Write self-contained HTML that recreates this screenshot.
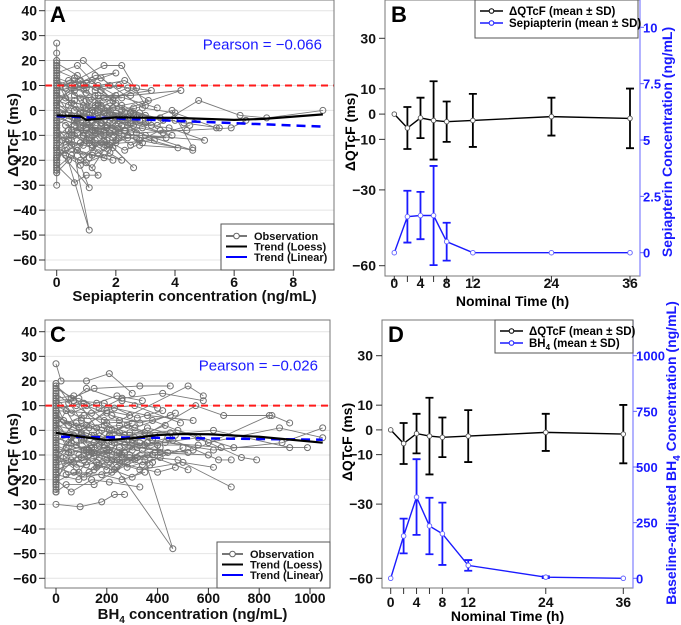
<!DOCTYPE html>
<html><head><meta charset="utf-8"><style>
html,body{margin:0;padding:0;background:#fff;}
svg{display:block;font-family:"Liberation Sans",Arial,sans-serif;}
.tk{font-size:14px;font-weight:bold;fill:#111;}
.tt{font-size:15px;font-weight:bold;fill:#111;}
</style></head><body>
<svg id="fig" width="681" height="625" viewBox="0 0 681 625" xmlns="http://www.w3.org/2000/svg"></svg>
<script>
// ===== DATA =====
const obsA = [
[0,5,1.2,12,2.0,3,0.9,-6,0.2,-2],[0,-10,0.9,-18,1.6,-12,0.8,-20,0,-15],[0,15,0.7,18,1.5,8,2.6,-2,0.4,2],
[0,-5,1.1,-48,0.5,-12,0,-20],[0,20,0.9,20,1.8,10,3.2,8,1.0,4],[0,-3,1.4,-8,2.8,-12,4.6,-16,2.0,-6],
[0,8,1.6,18,2.2,18,3.0,2,1.2,-4],[0,-22,0.6,-29,1.0,-26,1.4,-26,0.5,-14],[0,2,2.1,-3,3.4,-6,4.8,4,6.2,-2,7.1,-3,9.0,0],
[0,-8,1.9,-15,2.6,-23,1.5,-10,0.3,-6],[0,12,1.3,6,2.5,6,4.2,8,2.2,0],[0,-15,1.1,-31,0.8,-22,0.3,-18],
[0,0,1.8,-4,3.8,-7,5.0,-12,3.0,-10],[0,-18,1.0,-12,2.2,-20,1.4,-17,0.6,-10],[0,6,0.9,2,2.4,-6,3.6,-9,4.5,-6],
[0,10,1.5,13,2.9,1,4.0,-1,5.4,-7],[0,-12,0.7,-9,1.7,-2,3.3,-12,1.2,-14],[0,4,1.2,-1,2.0,-8,4.1,-15,2.8,-14],
[0,-6,0.5,-2,1.3,-6,2.7,-9,5.9,-7,6.4,-4],[0,16,0.8,12,1.9,4,0.6,6],[0,-25,0.4,-20,0.9,-14,0.2,-12],
[0,-1,1.6,-10,3.1,-4,3.9,0,4.6,-15],[0,13,1.0,9,2.3,12,2.7,9,1.4,2],[0,-9,1.7,-7,2.5,-14,3.5,-8,4.4,-8],
[0,1,0.8,-3,1.4,-1,2.2,2,3.0,-2],[0,-20,0.3,-16,1.2,-18,1.9,-20,0.7,-16],[0,9,1.1,4,1.8,-2,2.4,-4,3.2,-6],
[0,-14,1.5,-13,2.1,-11,3.7,-11,1.0,-8],[0,3,0.6,8,1.4,10,2.0,6,3.4,1],[0,-4,1.2,-10,2.6,-1,4.3,-5,5.5,-7],
[0,27,0,23,0,-30,0,18,0,-24],[0,17,0,-19,0,-11,0,7,0,-7],[0.9,-1,1.6,5,2.4,9,3.1,4,1.3,0],
[0.5,-8,1.0,-5,1.7,-12,2.3,-16,2.9,-13],[0.6,10,1.3,14,2.0,15,1.0,11,0.4,12],
[0,-2,0.8,-7,1.5,-4,2.1,-9,1.1,-11],[0,7,0.5,3,1.3,2,1.9,-5,2.6,-6],[0,-16,0.9,-9,1.6,-15,2.4,-11,0.6,-4],
[0,11,1.0,7,1.7,1,2.3,-1,3.5,-3],[0,-7,0.4,-12,1.2,-15,1.8,-9,2.9,-7],[0,14,0.6,0,1.4,-3,2.0,-13,1.1,-19],
[0,-11,0.7,-3,1.5,2,2.5,-5,3.9,-10],[0,-17,1.0,-21,1.8,-17,2.2,-6,1.3,-8],[0,5,0.8,5,1.6,-8,2.7,-3,4.0,-4],
[0,-23,0.5,-18,1.2,-23,1.7,-14,0.9,-10],[0,0,1.1,-2,1.9,1,2.8,-1,3.6,-4],[0,19,0.7,14,1.3,8,2.1,10,0.3,9],
[0,-13,0.6,-6,1.0,1,1.4,6,2.2,5],[0,6,0.4,-1,0.9,-10,1.6,-19,2.0,-12],[0,-19,0.8,-13,1.3,-9,1.9,-2,2.6,1],
[0,2,0.5,9,1.1,-3,1.7,-6,2.3,-8],[0,-9,0.7,-16,1.2,-5,2.0,-1,2.8,-4],[0,12,0.3,5,0.8,-1,1.5,-5,2.4,-10],
[0,-4,0.6,4,1.3,-12,1.8,-14,2.5,-9],[0,8,0.9,10,1.4,3,2.1,-3,3.0,-5],[0,-21,0.4,-8,1.0,-7,1.6,-1,2.2,-3],
[0,3,0.7,-4,1.2,-8,1.9,-11,2.7,-11],[0,-15,0.5,-10,1.1,-13,1.7,-7,2.3,-3],[0,10,0.6,13,1.2,0,1.8,3,2.5,-1]
];
const baseA = [-25,-23,-21,-19,-17,-15,-13,-11,-9,-7,-5,-3,-1,1,3,5,7,9,11,13,15,17,19,-24,-22,-20,-18,-16,-14,-12,-10,-8,-6,-4,-2,0,2,4,6,8,10,12,14,16,18,20];
const loessAx = [0,0.8,1.0,1.3,2,4,6,7,9];
const loessAy = [-2,-2.4,-3.8,-3.5,-2.8,-3,-3.8,-3.4,-1.6];
const linAx = [0,9];
const linAy = [-2.3,-6.5];
const pearsonA = "Pearson = \u22120.066";

const obsC = [
[0,27,20,20,120,20,210,23,300,15],[0,18,60,13,150,17,330,18,450,18],[0,-30,95,-31,180,-29,230,-26,270,-26],
[0,-5,200,-10,460,-48,350,-12,120,-8],[0,10,100,5,250,4,520,18,580,14],[0,-20,60,-25,140,-20,210,-21,330,-23],
[0,2,150,-2,300,-5,550,10,660,6,850,6,920,3],[0,-10,80,-15,200,-12,400,-17,470,-15],[0,5,180,0,380,-4,620,-8,890,-5,1050,1],
[0,-3,130,-8,290,-10,480,-12,690,-23],[0,12,90,13,170,9,310,10,490,3],[0,-15,110,-19,220,-17,360,-10,520,-16],
[0,0,160,-3,350,-6,560,-3,730,-11,790,-12],[0,-8,70,-13,190,-7,280,-15,410,-11],[0,8,140,7,260,13,420,15,580,12],
[0,-12,100,-4,240,-9,440,-3,640,-12,690,-12],[0,-2,200,3,380,4,600,-5,880,1,1050,-3],[0,15,50,11,120,17,260,12,400,9],
[0,-18,90,-20,170,-14,300,-19,370,-14],[0,4,130,1,270,-2,480,0,700,-7,990,-7],[0,-6,60,-9,200,-4,320,-7,520,-9],
[0,-25,40,-22,150,-22,280,-13,410,-7],[0,1,110,6,230,9,360,6,540,4],[0,-14,170,-11,330,-16,500,-13,620,-15],
[0,9,80,10,190,2,290,-1,450,-1],[0,-9,140,-6,250,-13,390,-9,600,-10],[0,13,60,7,160,11,240,14,340,12],
[0,-4,120,-1,220,-6,430,-5,650,-7],[0,6,90,1,200,7,310,1,470,7],[0,-21,70,-17,180,-18,260,-20,350,-17],
[0,-1,150,-5,280,2,390,-2,620,0,920,-7],[0,-16,110,-12,210,-8,340,-14,500,-7],[0,3,40,-7,130,-10,250,-7,380,-13],
[0,-7,100,-11,230,-5,360,1,470,-2],[0,11,70,12,190,11,320,5,420,8],[0,-12,150,-16,290,-11,400,-6,560,-6],
[0,-25,0,-21,0,14,0,-16,0,12],[0,7,50,2,140,-2,270,-6,440,-9],[0,-3,80,-6,170,-1,300,-8,460,-4],
[0,17,120,10,220,6,330,3,450,6],[0,-11,60,-3,160,-15,260,-10,370,-3],[0,-19,90,-10,200,-16,300,-4,410,-9],
[0,2,110,-8,240,-12,380,-10,540,-8,840,6],[0,-7,40,-18,130,-17,250,-9,330,-5],[0,19,100,4,210,0,310,-3,430,2],
[0,-13,50,-5,120,2,200,8,290,6],[0,6,70,-2,150,-9,230,-16,320,-11],[0,-17,60,-12,140,-7,220,0,300,3],
[0,1,40,8,110,-4,190,-6,270,-9],[0,-10,90,-17,170,-6,250,-1,360,-5],[0,11,30,4,100,-1,180,-5,260,-11],
[0,-5,80,3,160,-13,240,-15,340,-8],[0,9,110,11,190,4,270,-2,380,-4],[0,-22,50,-9,130,-8,210,-2,290,-2],
[0,4,60,-5,140,-9,220,-12,310,-12],[0,-14,40,-11,120,-14,200,-8,280,-4],[0,13,70,14,160,1,250,2,350,-1]
];
const baseC = [-25,-23,-21,-19,-17,-15,-13,-11,-9,-7,-5,-3,-1,1,3,5,7,9,11,13,15,17,19,-24,-22,-20,-18,-16,-14,-12,-10,-8,-6,-4,-2,0,2,4,6,8,10,12,14,16,18];
const loessCx = [0,100,200,300,400,500,600,800,1050];
const loessCy = [-1,-2.6,-4,-3.2,-1.9,-1.5,-1.6,-2.6,-5];
const linCx = [20,1050];
const linCy = [-2.6,-3.8];
const pearsonC = "Pearson = \u22120.026";

const times = [0,2,4,6,8,12,24,36];
const qtcMean = [0,-5.5,-1.5,-2.5,-3,-2.5,-1,-1.7];
const qtcSD = [0,8.3,8,15.5,8,10.5,7.5,11.8];
const sepMean = [0,1.6,1.65,1.65,0.49,0,0,0];
const sepSD = [0,1.15,1.05,2.2,0.84,0,0,0];
const bh4Mean = [0,190,365,235,200,58,5,0];
const bh4SD = [0,78,170,127,140,24,4,0];
const leftTicks = [30,10,0,-10,-30,-60];
const sepTicks = [0,2.5,5,7.5,10];
const bh4Ticks = [0,250,500,750,1000];
const timeTicks = [0,4,8,12,24,36];
const timeMinor = [2,6];
const yTicksScatter = [40,30,20,10,0,-10,-20,-30,-40,-50,-60];
const xTicksA = [0,2,4,6,8];
const xTicksC = [0,200,400,600,800,1000];

// ===== DRAW =====
const NS="http://www.w3.org/2000/svg";
const svg=document.getElementById('fig');
function mk(tag,parent,attrs){const e=document.createElementNS(NS,tag);for(const k in attrs)e.setAttribute(k,attrs[k]);parent.appendChild(e);return e;}
function lin(d0,d1,r0,r1){return v=>r0+(v-d0)*(r1-r0)/(d1-d0);}

function scatterPanel(o){
  const g=mk('g',svg,{});
  
  
  const X=lin(o.xd[0],o.xd[1],o.xr[0],o.xr[1]), Y=lin(40,-60,o.y40,o.ym60);
  yTicksScatter.forEach(v=>{const l=mk('line',g,{x1:o.box[0],x2:o.box[2],y1:Y(v),y2:Y(v),stroke:'#e4e4e4','stroke-width':1});
    });
  const og=mk('g',g,{});
  
  o.obs.forEach(s=>{
    let pts=[];for(let i=0;i<s.length;i+=2)pts.push(X(s[i]).toFixed(1)+','+Y(s[i+1]).toFixed(1));
    const pl=mk('polyline',og,{points:pts.join(' '),fill:'none',stroke:'#7a7a7a','stroke-width':0.9});
    
    for(let i=0;i<s.length;i+=2){const c=mk('circle',og,{cx:X(s[i]),cy:Y(s[i+1]),r:3,fill:'none',stroke:'#707070','stroke-width':1});
      }
  });
  o.base.forEach(v=>{const c=mk('circle',og,{cx:X(0),cy:Y(v),r:3,fill:'none',stroke:'#707070','stroke-width':1});
    });
  const rl=mk('line',g,{x1:o.box[0],x2:o.box[2],y1:Y(10),y2:Y(10),stroke:'#ff1a1a','stroke-width':2,'stroke-dasharray':'7,5'});
  
  const lp=mk('polyline',g,{points:o.lx.map((v,i)=>X(v)+','+Y(o.ly[i])).join(' '),fill:'none',stroke:'#0000ff','stroke-width':2.5,'stroke-dasharray':'9,6'});
  
  const lo=mk('polyline',g,{points:o.sx.map((v,i)=>X(v)+','+Y(o.sy[i])).join(' '),fill:'none',stroke:'#000','stroke-width':2.2,'stroke-linejoin':'round'});
  
  const bx=mk('rect',g,{x:o.box[0],y:o.box[1],width:o.box[2]-o.box[0],height:o.box[3]-o.box[1],fill:'none',stroke:'#777','stroke-width':1});
  
  yTicksScatter.forEach(v=>{mk('line',g,{x1:o.box[0]-6,x2:o.box[0],y1:Y(v),y2:Y(v),stroke:'#333'});
    const t=mk('text',g,{x:o.box[0]-8,y:Y(v)+5,'text-anchor':'end',class:'tk'});t.textContent=v<0?'\u2212'+(-v):v;
    });
  o.xt.forEach(v=>{mk('line',g,{x1:X(v),x2:X(v),y1:o.box[3],y2:o.box[3]+6,stroke:'#333'});
    const t=mk('text',g,{x:X(v),y:o.xtY,'text-anchor':'middle',class:'tk'});t.textContent=v;
    });
  const yt=mk('text',g,{x:0,y:0,transform:`translate(18,${o.ytc}) rotate(-90)`,'text-anchor':'middle',class:'tt'});yt.innerHTML='\u0394QTcF (ms)';
  
  const xt=mk('text',g,{x:(o.box[0]+o.box[2])/2+5,y:o.xtitleY,'text-anchor':'middle',class:'tt'});xt.innerHTML=o.xtitle;
  
  const pl=mk('text',g,{x:o.box[0]+5,y:o.box[1]+22,'font-size':22,'font-weight':'bold'});pl.textContent=o.letter;
  
  const pr=mk('text',g,{x:o.box[2]-12,y:Y(30)+14,'text-anchor':'end','font-size':15,fill:'#1a1aff'});pr.textContent=o.pearson;
  
  const L=mk('g',g,{});
  const lx=o.box[2]-113, ly=o.box[3]-46;
  mk('rect',L,{x:lx,y:ly,width:113,height:46,fill:'#fff',stroke:'#555'});
  const items=[['Observation','#777'],['Trend (Loess)','#000'],['Trend (Linear)','#0000ff']];
  items.forEach((it,i)=>{const yy=ly+12+i*10.5;
    mk('line',L,{x1:lx+5,x2:lx+26,y1:yy,y2:yy,stroke:it[1],'stroke-width':2});
    if(i==0)mk('circle',L,{cx:lx+15.5,cy:yy,r:2.8,fill:'#fff',stroke:'#666'});
    const t=mk('text',L,{x:lx+33,y:yy+4,'font-size':11,'font-weight':'bold',fill:'#111'});t.textContent=it[0];
    });
}

scatterPanel({name:'panel-a',letter:'A',obs:obsA,base:baseA,xd:[0,8],xr:[56.7,293.3],y40:10.7,ym60:260,box:[45,0,334,270],
 sx:loessAx,sy:loessAy,lx:linAx,ly:linAy,xt:xTicksA,xtY:287,xtitleY:301,xtitle:'Sepiapterin concentration (ng/mL)',ytc:135,pearson:pearsonA});
scatterPanel({name:'panel-c',letter:'C',obs:obsC,base:baseC,xd:[0,1000],xr:[56,310],y40:331.7,ym60:578.3,box:[45,320,330,588],
 sx:loessCx,sy:loessCy,lx:linCx,ly:linCy,xt:xTicksC,xtY:603,xtitleY:619,xtitle:'BH<tspan font-size="10" dy="4">4</tspan><tspan dy="-4"> concentration (ng/mL)</tspan>',ytc:455,pearson:pearsonC});

function timePanel(o){
  const g=mk('g',svg,{});
  
  const X=lin(0,36,o.x0,o.x36), Y=lin(30,-60,o.y30,o.ym60), R=lin(0,o.rmax,o.r0,o.rtop);
  mk('rect',g,{x:o.box[0],y:o.box[1],width:o.box[2]-o.box[0],height:o.box[3]-o.box[1],fill:'none',stroke:'#777'});
  mk('line',g,{x1:o.box[2],x2:o.box[2],y1:o.box[1],y2:o.box[3],stroke:'#8080ff','stroke-width':1.2});
  leftTicks.forEach(v=>{mk('line',g,{x1:o.box[0]-6,x2:o.box[0],y1:Y(v),y2:Y(v),stroke:'#333'});
    const t=mk('text',g,{x:o.box[0]-9,y:Y(v)+5,'text-anchor':'end',class:'tk'});t.textContent=v<0?'\u2212'+(-v):v;
    });
  o.rt.forEach(v=>{mk('line',g,{x1:o.box[2],x2:o.box[2]+4,y1:R(v),y2:R(v),stroke:'#6060ff'});
    const t=mk('text',g,{x:o.box[2]+3,y:R(v)+5,'font-size':13,'font-weight':'bold',fill:'#1a1aff'});t.textContent=v;
    });
  timeTicks.concat(timeMinor).forEach(v=>mk('line',g,{x1:X(v),x2:X(v),y1:o.box[3],y2:o.box[3]+6,stroke:'#333'}));
  timeTicks.forEach(v=>{const t=mk('text',g,{x:X(v),y:o.xtY,'text-anchor':'middle',class:'tk'});t.textContent=v;
    });
  const xt=mk('text',g,{x:(o.box[0]+o.box[2])/2,y:o.xtitleY,'text-anchor':'middle','font-size':14,'font-weight':'bold'});xt.textContent='Nominal Time (h)';
  
  const yt=mk('text',g,{transform:`translate(${o.box[0]-30},${o.ytc}) rotate(-90)`,'text-anchor':'middle','font-size':14,'font-weight':'bold'});yt.textContent='\u0394QTcF (ms)';
  
  const rt=mk('text',g,{transform:`translate(${o.rtx},${o.rtc}) rotate(-90)`,'text-anchor':'middle','font-size':o.rfs,'font-weight':'bold',fill:'#1a1aff'});rt.innerHTML=o.rtitle;
  
  const pl=mk('text',g,{x:o.box[0]+6,y:o.box[1]+o.lettY,'font-size':22,'font-weight':'bold'});pl.textContent=o.letter;
  
  function series(mean,sd,Yf,col,nm){
    const sg=mk('g',g,{});
    times.forEach((t,i)=>{if(sd[i]>0){const x=X(t),a=Yf(mean[i]+sd[i]),b=Yf(mean[i]-sd[i]);
      const e=mk('path',sg,{d:`M${x},${a}V${b}M${x-4},${a}H${x+4}M${x-4},${b}H${x+4}`,stroke:col,'stroke-width':1.8,fill:'none'});
      }});
    mk('polyline',sg,{points:times.map((t,i)=>X(t)+','+Yf(mean[i])).join(' '),fill:'none',stroke:col,'stroke-width':1.4});
    times.forEach((t,i)=>{const c=mk('circle',sg,{cx:X(t),cy:Yf(mean[i]),r:2.3,fill:'#fff',stroke:col=='#000'?'#555':'#6060ff','stroke-width':0.9});
      });
  }
  series(qtcMean,qtcSD,Y,'#000','qtcf-series');
  series(o.cm,o.cs,R,'#1a1aff','concentration-series');
  const L=mk('g',g,{});
  mk('rect',L,{x:o.leg[0],y:o.leg[1],width:o.leg[2],height:o.leg[3],fill:'#fff',stroke:'#555'});
  [['\u0394QTcF (mean \u00b1 SD)','#000'],[o.l2,'#1a1aff']].forEach((it,i)=>{const yy=o.leg[1]+11+i*12;
    mk('line',L,{x1:o.leg[0]+5,x2:o.leg[0]+28,y1:yy,y2:yy,stroke:it[1],'stroke-width':1.5});
    mk('circle',L,{cx:o.leg[0]+16.5,cy:yy,r:2.3,fill:'#fff',stroke:it[1]});
    const t=mk('text',L,{x:o.leg[0]+34,y:yy+4,'font-size':11.5,'font-weight':'bold'});t.innerHTML=it[0];
    });
}
timePanel({name:'panel-b',letter:'B',box:[385,0,640,276],x0:394.3,x36:630,y30:38.3,ym60:265.7,rmax:10,r0:252.7,rtop:27.3,
 rt:sepTicks,cm:sepMean,cs:sepSD,xtY:288,xtitleY:306,ytc:132,rtx:672,rtc:142,rfs:14,lettY:22,
 rtitle:'Sepiapterin Concentration (ng/mL)',leg:[475,0,163,38],l2:'Sepiapterin (mean \u00b1 SD)'});
timePanel({name:'panel-d',letter:'D',box:[382,320,633,588],x0:390.7,x36:623.3,y30:355.7,ym60:578.3,rmax:1000,r0:578.3,rtop:355.7,
 rt:bh4Ticks,cm:bh4Mean,cs:bh4SD,xtY:607,xtitleY:621,ytc:442,rtx:676,rtc:453,rfs:14,lettY:22,
 rtitle:'Baseline-adjusted BH<tspan font-size="10" dy="4">4</tspan><tspan dy="-4"> Concentration (ng/mL)</tspan>',leg:[495,320,138,33],l2:'BH<tspan font-size="8" dy="3">4</tspan><tspan dy="-3"> (mean \u00b1 SD)</tspan>'});
</script>
</body></html>
